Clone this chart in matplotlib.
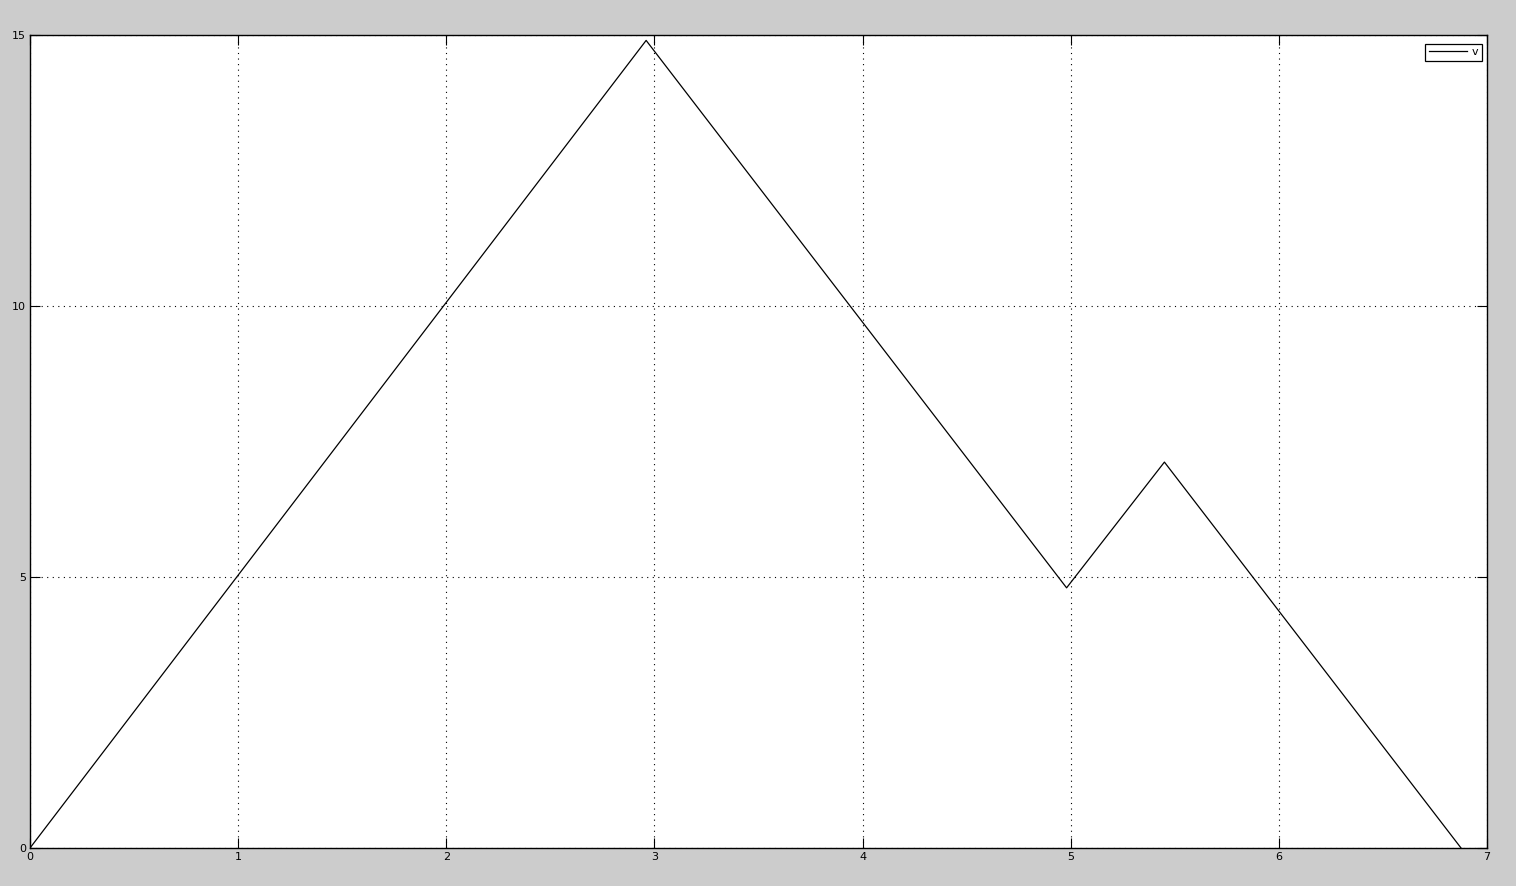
import matplotlib
matplotlib.use("Agg")
import matplotlib.pyplot as plt

# точки графика v(t)
t = [0.0, 2.96, 4.98, 5.45, 6.875]
v = [0.0, 14.9, 4.8, 7.12, 0.0]
x_ticks = [0, 1, 2, 3, 4, 5, 6, 7]
y_ticks = [0, 5, 10, 15]

fig = plt.figure(figsize=(15.16, 8.86), dpi=100, facecolor="#cccccc")
ax = fig.add_axes([0.0198, 0.0429, 0.9611, 0.9176])
ax.set_facecolor("white")

ax.plot(t, v, color="black", linewidth=0.9, label="v")

ax.set_xlim(0, 7)
ax.set_ylim(0, 15)
ax.set_xticks(x_ticks)
ax.set_yticks(y_ticks)
ax.grid(True, color="black", linestyle=(0, (1, 4)), linewidth=0.8)
ax.tick_params(direction="in", top=True, right=True, length=7, width=0.8,
               labelsize=8, pad=3)
for s in ax.spines.values():
    s.set_linewidth(1.0)

# легенда в правом верхнем углу, прижата к рамке
leg = ax.legend(loc="upper right", bbox_to_anchor=(0.9966, 0.989),
                fontsize=8, fancybox=False, framealpha=1, edgecolor="black",
                handlelength=3.4, handletextpad=0.5, borderpad=0.3,
                borderaxespad=0.0)
leg.get_frame().set_linewidth(0.9)

fig.savefig("out.png", dpi=100, facecolor=fig.get_facecolor())
